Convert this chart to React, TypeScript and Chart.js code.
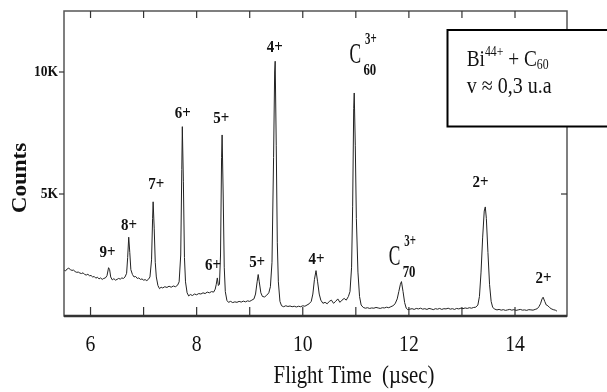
import React, { useEffect, useRef } from 'react';
import { Chart, registerables } from 'chart.js';

Chart.register(...registerables);

// Flight time (µs) and counts
const flightTimes = [
  5.50, 5.53, 5.56, 5.59, 5.62, 5.65, 5.68, 5.71, 5.74, 5.77, 5.80, 5.83, 5.86, 5.89, 5.92, 5.95, 5.98,
  6.01, 6.04, 6.07, 6.10, 6.13, 6.16, 6.19, 6.22, 6.25, 6.28, 6.31, 6.34, 6.36, 6.38, 6.41, 6.44, 6.47,
  6.50, 6.53, 6.56, 6.59, 6.62, 6.65, 6.68, 6.70, 6.72, 6.74, 6.76, 6.79, 6.82, 6.85, 6.88, 6.91, 6.94,
  6.97, 7.00, 7.03, 7.06, 7.09, 7.12, 7.15, 7.17, 7.18, 7.20, 7.22, 7.24, 7.27, 7.30, 7.33, 7.36, 7.40,
  7.44, 7.48, 7.52, 7.56, 7.60, 7.64, 7.67, 7.70, 7.72, 7.73, 7.75, 7.77, 7.79, 7.82, 7.85, 7.88, 7.92,
  7.96, 8.00, 8.04, 8.08, 8.12, 8.16, 8.20, 8.24, 8.28, 8.32, 8.35, 8.37, 8.39, 8.41, 8.43, 8.45, 8.47,
  8.48, 8.50, 8.52, 8.54, 8.57, 8.60, 8.64, 8.68, 8.72, 8.76, 8.80, 8.84, 8.88, 8.92, 8.96, 9.00, 9.04,
  9.08, 9.11, 9.14, 9.16, 9.18, 9.21, 9.24, 9.28, 9.32, 9.36, 9.39, 9.42, 9.45, 9.47, 9.48, 9.50, 9.52,
  9.54, 9.57, 9.60, 9.64, 9.68, 9.72, 9.76, 9.80, 9.84, 9.88, 9.92, 9.96, 10.00, 10.04, 10.08, 10.12,
  10.16, 10.19, 10.22, 10.25, 10.28, 10.31, 10.34, 10.38, 10.42, 10.46, 10.50, 10.54, 10.58, 10.62,
  10.66, 10.70, 10.74, 10.78, 10.82, 10.86, 10.89, 10.92, 10.94, 10.96, 10.97, 10.99, 11.01, 11.04,
  11.07, 11.10, 11.14, 11.18, 11.22, 11.26, 11.30, 11.34, 11.38, 11.42, 11.46, 11.50, 11.54, 11.58,
  11.62, 11.66, 11.70, 11.74, 11.78, 11.81, 11.84, 11.86, 11.89, 11.92, 11.95, 11.98, 12.02, 12.06,
  12.10, 12.14, 12.18, 12.22, 12.26, 12.30, 12.34, 12.38, 12.42, 12.46, 12.50, 12.54, 12.58, 12.62,
  12.66, 12.70, 12.74, 12.78, 12.82, 12.86, 12.90, 12.94, 12.98, 13.02, 13.06, 13.10, 13.14, 13.18,
  13.22, 13.26, 13.30, 13.33, 13.36, 13.39, 13.42, 13.44, 13.46, 13.49, 13.52, 13.55, 13.58, 13.62,
  13.66, 13.70, 13.74, 13.78, 13.82, 13.86, 13.90, 13.94, 13.98, 14.02, 14.06, 14.10, 14.14, 14.18,
  14.22, 14.26, 14.30, 14.34, 14.38, 14.42, 14.45, 14.48, 14.51, 14.53, 14.56, 14.59, 14.62, 14.65,
  14.68, 14.72, 14.76, 14.79,
];

const counts = [
  1880, 1850, 1930, 1960, 1900, 1870, 1880, 1820, 1790, 1800, 1760, 1740, 1770, 1700, 1680, 1710, 1650,
  1660, 1600, 1620, 1550, 1590, 1520, 1560, 1500, 1540, 1560, 1650, 1980, 1900, 1600, 1480, 1530, 1470,
  1500, 1540, 1510, 1560, 1540, 1600, 1750, 2400, 3230, 2600, 1900, 1700, 1600, 1620, 1540, 1560, 1500,
  1520, 1470, 1490, 1450, 1500, 1600, 2300, 4000, 4680, 3600, 2200, 1600, 1250, 1120, 1180, 1150, 1200,
  1170, 1220, 1180, 1230, 1200, 1260, 1400, 2500, 6000, 7760, 5500, 2400, 1400, 950, 820, 880, 840,
  900, 870, 920, 900, 950, 920, 980, 950, 1000, 980, 1100, 1300, 1560, 1250, 1300, 2500, 6500,
  7420, 5000, 2000, 1000, 640, 560, 600, 550, 580, 560, 600, 570, 610, 580, 620, 600, 650,
  700, 900, 1400, 1700, 1400, 950, 800, 780, 850, 950, 1200, 2200, 6500, 10000, 10440, 7000, 3000,
  1400, 600, 420, 380, 420, 390, 410, 380, 400, 370, 400, 380, 420, 400, 450, 500,
  600, 900, 1500, 1860, 1400, 900, 650, 520, 560, 500, 600, 650, 520, 600,
  700, 560, 650, 720, 650, 800, 1000, 2000, 4500, 8500, 9140, 7000, 4000, 1800,
  800, 450, 350, 320, 340, 310, 330, 320, 350, 330, 310, 340, 330, 360,
  340, 380, 420, 500, 700, 1000, 1300, 1410, 1000, 550, 320, 260, 280, 300,
  270, 310, 290, 320, 280, 300, 270, 310, 290, 260, 300, 280, 310, 270,
  300, 290, 320, 280, 300, 270, 310, 290, 320, 300, 330, 310, 340, 320,
  350, 360, 450, 800, 1800, 3200, 4300, 4470, 4000, 2600, 1300, 600, 350, 280,
  250, 270, 240, 260, 230, 250, 270, 240, 260, 230, 250, 270, 240, 250,
  230, 260, 250, 240, 270, 300, 380, 500, 700, 770, 600, 450, 420, 350,
  300, 260, 240, 200,
];

const xTickValues = [6, 7, 8, 9, 10, 11, 12, 13, 14];
const xLabelValues = [6, 8, 10, 12, 14];
const xLabelTexts = ['6', '8', '10', '12', '14'];
const yTickValues = [5000, 10000];
const yTickLabels = ['5K', '10K'];

const peakLabels = ['9+', '8+', '7+', '6+', '5+', '4+', '6+', '5+', '4+', '2+', '2+'];
const peakLabelTimes = [6.32, 6.726, 7.24, 7.738, 8.466, 9.473, 8.31, 9.14, 10.258, 13.35, 14.539];
const peakLabelCounts = [2600, 3700, 5385, 8310, 8090, 11005, 2080, 2190, 2315, 5475, 1517];

const clusterMasses = ['60', '70'];
const clusterCharges = ['3+', '3+'];
const clusterTimes = [10.99, 11.73];
const clusterCounts = [10700, 2418];

const xTitle = 'Flight Time  (\u00b5sec)';
const yTitle = 'Counts';

const SERIF = "'Liberation Serif', 'Times New Roman', serif";

function drawText(
  ctx: CanvasRenderingContext2D,
  s: string,
  px: number,
  py: number,
  font: string,
  sx: number,
  align: CanvasTextAlign = 'center',
  base: CanvasTextBaseline = 'middle',
) {
  ctx.save();
  ctx.translate(px, py);
  ctx.scale(sx, 1);
  ctx.font = font;
  ctx.textAlign = align;
  ctx.textBaseline = base;
  ctx.fillStyle = '#111';
  ctx.fillText(s, 0, 0);
  ctx.restore();
}

function seg(ctx: CanvasRenderingContext2D, x1: number, y1: number, x2: number, y2: number) {
  ctx.beginPath();
  ctx.moveTo(x1, y1);
  ctx.lineTo(x2, y2);
  ctx.stroke();
}

const overlayPlugin = {
  id: 'overlay',
  afterDraw(chart: any) {
    const ctx: CanvasRenderingContext2D = chart.ctx;
    const a = chart.chartArea;
    const xs = chart.scales.x;
    const ys = chart.scales.y;
    ctx.save();

    // frame
    ctx.strokeStyle = '#555';
    ctx.lineWidth = 1.5;
    ctx.strokeRect(a.left, a.top, a.right - a.left, a.bottom - a.top);
    ctx.strokeStyle = '#333';
    ctx.lineWidth = 2.5;
    seg(ctx, a.left, a.bottom, a.right, a.bottom);

    // ticks
    ctx.strokeStyle = '#333';
    ctx.lineWidth = 1.2;
    xTickValues.forEach((v) => {
      const px = xs.getPixelForValue(v);
      seg(ctx, px, a.bottom, px, a.bottom - 9);
      seg(ctx, px, a.top, px, a.top + 7);
    });
    yTickValues.forEach((v) => {
      const py = ys.getPixelForValue(v);
      seg(ctx, a.left - 5, py, a.left, py);
      seg(ctx, a.right - 6, py, a.right, py);
    });

    // tick labels
    xLabelValues.forEach((v, i) => {
      drawText(ctx, xLabelTexts[i], xs.getPixelForValue(v), a.bottom + 29, `24px ${SERIF}`, 0.82);
    });
    yTickValues.forEach((v, i) => {
      drawText(ctx, yTickLabels[i], a.left - 6, ys.getPixelForValue(v), `bold 15px ${SERIF}`, 0.9, 'right');
    });

    // axis titles
    drawText(ctx, xTitle, 354, 383, `26px ${SERIF}`, 0.8, 'center', 'alphabetic');
    ctx.save();
    ctx.translate(21, 178);
    ctx.rotate(-Math.PI / 2);
    ctx.scale(1.1, 1);
    ctx.font = `bold 21px ${SERIF}`;
    ctx.textAlign = 'center';
    ctx.textBaseline = 'middle';
    ctx.fillStyle = '#111';
    ctx.fillText(yTitle, 0, 0);
    ctx.restore();

    // peak labels
    peakLabels.forEach((s, i) => {
      drawText(ctx, s, xs.getPixelForValue(peakLabelTimes[i]), ys.getPixelForValue(peakLabelCounts[i]),
        `bold 17px ${SERIF}`, 0.88);
    });

    // cluster labels C_n^{q+}
    clusterMasses.forEach((m, i) => {
      const px = xs.getPixelForValue(clusterTimes[i]);
      const py = ys.getPixelForValue(clusterCounts[i]);
      drawText(ctx, 'C', px, py, `30px ${SERIF}`, 0.58);
      drawText(ctx, clusterCharges[i], px + 15.5, py - 15, `bold 16px ${SERIF}`, 0.68);
      drawText(ctx, m, px + 14.5, py + 15.5, `bold 16px ${SERIF}`, 0.8);
    });

    // info box
    ctx.fillStyle = '#fff';
    ctx.fillRect(447.5, 30, 200, 96.5);
    ctx.strokeStyle = '#000';
    ctx.lineWidth = 2;
    ctx.strokeRect(447.5, 30, 200, 96.5);

    const sx = 0.84;
    const big = `23px ${SERIF}`;
    const small = `14px ${SERIF}`;
    let cx = 466.7;
    const put = (s: string, font: string, base: number) => {
      ctx.font = font;
      const w = ctx.measureText(s).width * sx;
      drawText(ctx, s, cx, base, font, sx, 'left', 'alphabetic');
      cx += w;
    };
    put('Bi', big, 65.7);
    put('44+', small, 56);
    put(' + C', big, 65.7);
    put('60', small, 69);
    drawText(ctx, 'v \u2248 0,3 u.a', 466.7, 93.3, big, 0.87, 'left', 'alphabetic');

    ctx.restore();
  },
};

export default function App() {
  const canvasRef = useRef<HTMLCanvasElement | null>(null);

  useEffect(() => {
    const canvas = canvasRef.current;
    if (!canvas) return;
    const chart = new Chart(canvas, {
      type: 'line',
      data: {
        datasets: [
          {
            data: flightTimes.map((t, i) => ({ x: t, y: counts[i] })),
            borderColor: '#222',
            borderWidth: 1,
            pointRadius: 0,
            tension: 0,
            fill: false,
          },
        ],
      },
      options: {
        animation: false,
        responsive: false,
        devicePixelRatio: 1,
        layout: { padding: { left: 64, top: 11, right: 40, bottom: 76 } },
        scales: {
          x: { type: 'linear', min: 5.5, max: 14.98, display: false },
          y: { type: 'linear', min: 0, max: 12500, display: false },
        },
        plugins: {
          legend: { display: false },
          tooltip: { enabled: false },
        },
      },
      plugins: [overlayPlugin],
    } as any);
    return () => chart.destroy();
  }, []);

  return (
    <div style={{ position: 'absolute', left: 0, top: 0, width: 607, height: 392, background: '#fff' }}>
      <canvas ref={canvasRef} width={607} height={392} style={{ display: 'block' }} />
    </div>
  );
}
